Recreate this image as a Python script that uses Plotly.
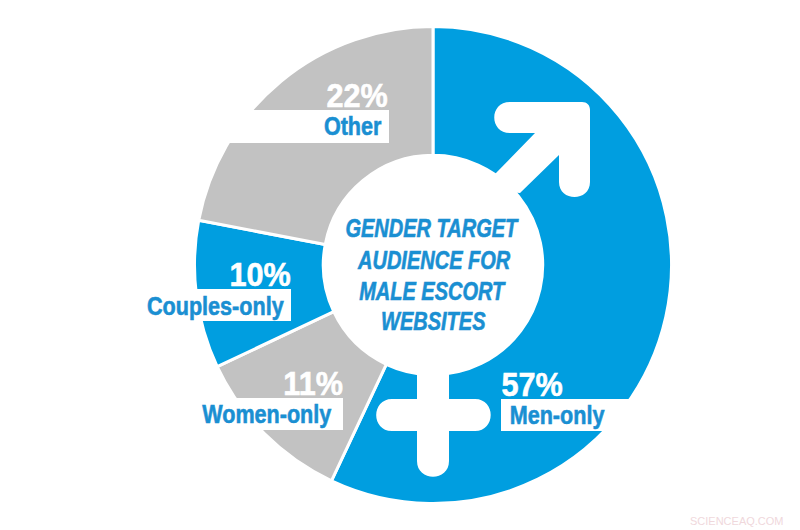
import plotly.graph_objects as go

W, H = 800, 530

# slices, clockwise from the top
labels = ["Men-only", "Women-only", "Couples-only", "Other"]
values = [57, 11, 10, 22]
slice_colors = ["#009ee0", "#c2c2c2", "#009ee0", "#c2c2c2"]

title_lines = ["GENDER TARGET", "AUDIENCE FOR", "MALE ESCORT", "WEBSITES"]

BLUE_TEXT = "#1a8fd2"
FONT = "Liberation Sans, sans-serif"


# convert picture pixels to paper coordinates
def px(x):
    return x / W


def py(y):
    return 1 - y / H


def path(cmds):
    out = []
    for cmd in cmds:
        letter, pts = cmd[0], cmd[1:]
        coords = " ".join(f"{px(x):.5f},{py(y):.5f}" for x, y in pts)
        out.append(f"{letter} {coords}")
    return " ".join(out) + " Z"


fig = go.Figure()

fig.add_trace(go.Pie(
    labels=labels,
    values=values,
    sort=False,
    direction="clockwise",
    rotation=0,
    hole=0.46,
    textinfo="none",
    hoverinfo="label+percent",
    showlegend=False,
    marker=dict(colors=slice_colors, line=dict(color="white", width=3)),
    domain=dict(x=[px(194.5), px(671.5)], y=[py(503.5), py(26.5)]),
))

# male arrow
male = path([
    ("M", (535, 133)), ("L", (510, 133)),
    ("C", (489, 133), (489, 102), (510, 102)),
    ("L", (582, 102)),
    ("C", (587, 102), (590, 105), (590, 110)),
    ("L", (590, 182)),
    ("C", (590, 202), (559, 202), (559, 182)),
    ("L", (559, 155)), ("L", (520, 193)), ("L", (480, 190)), ("L", (496, 173)),
])
# female cross
female = path([
    ("M", (417, 360)), ("L", (449, 360)), ("L", (449, 399)), ("L", (475, 399)),
    ("C", (496, 399), (496, 431), (475, 431)),
    ("L", (449, 431)), ("L", (449, 461)),
    ("C", (449, 482), (417, 482), (417, 461)),
    ("L", (417, 431)), ("L", (392, 431)),
    ("C", (371, 431), (371, 399), (392, 399)),
    ("L", (417, 399)),
])
symbol_shapes = [
    dict(type="path", path=p, xref="paper", yref="paper", layer="above",
         fillcolor="white", line=dict(width=0))
    for p in (male, female)
]

# white label boxes, cut into the ring
box_edges = [
    (501, 399, 670, 431),  # Men-only
    (190, 398, 343, 430),  # Women-only
    (190, 289, 291, 321),  # Couples-only
    (220, 110, 389, 143),  # Other
]
box_shapes = [
    dict(type="rect", xref="paper", yref="paper", layer="above",
         x0=px(x0), x1=px(x1), y0=py(y1), y1=py(y0),
         fillcolor="white", line=dict(width=0))
    for x0, y0, x1, y1 in box_edges
]

# text centres: percent x, percent y, name x, name y
label_pos = {
    "Men-only": (531.5, 384, 557.5, 415),
    "Women-only": (312.5, 383, 266.5, 414),
    "Couples-only": (260, 274, 215.5, 306),
    "Other": (356.5, 95, 352, 126),
}

annotations = []
for name, val in zip(labels, values):
    pct_x, pct_y, name_x, name_y = label_pos[name]
    annotations.append(dict(
        text=f"{val}%", x=px(pct_x), y=py(pct_y), xref="paper", yref="paper",
        xanchor="center", yanchor="middle", showarrow=False,
        font=dict(family=FONT, size=34, color="white", weight="bold"),
    ))
    annotations.append(dict(
        text=name, x=px(name_x), y=py(name_y), xref="paper", yref="paper",
        xanchor="center", yanchor="middle", showarrow=False,
        font=dict(family=FONT, size=26, color=BLUE_TEXT, weight="bold"),
    ))

title_ys = [228, 260, 291, 321]
for line, y in zip(title_lines, title_ys):
    annotations.append(dict(
        text=line, x=px(433), y=py(y),
        xref="paper", yref="paper", xanchor="center", yanchor="middle",
        showarrow=False,
        font=dict(family=FONT, size=25, color=BLUE_TEXT, weight="bold", style="italic"),
    ))

annotations.append(dict(
    text="SCIENCEAQ.COM", x=px(786), y=py(521), xref="paper", yref="paper",
    xanchor="right", yanchor="middle", showarrow=False,
    font=dict(family=FONT, size=11, color="#f0d8dc"),
))

fig.update_layout(
    width=W, height=H,
    margin=dict(l=0, r=0, t=0, b=0),
    paper_bgcolor="white",
    shapes=box_shapes + symbol_shapes,
    annotations=annotations,
)

# no narrow bold font installed, so squeeze the text horizontally; also drop the page margin
squeeze_js = """
document.body.style.margin = '0';
document.querySelectorAll('.annotation-text').forEach(function (t) {
    var size = parseFloat(t.style.fontSize);
    if (size < 20) { return; }
    var k = size > 30 ? 0.9 : (size > 25 ? 0.83 : 0.8);
    t.setAttribute('textLength', t.getComputedTextLength() * k);
    t.setAttribute('lengthAdjust', 'spacingAndGlyphs');
    t.style.stroke = t.style.fill;
    t.style.strokeWidth = '0.6px';
});
"""

fig.write_html("out.html", post_script=squeeze_js, config=dict(displayModeBar=False))
